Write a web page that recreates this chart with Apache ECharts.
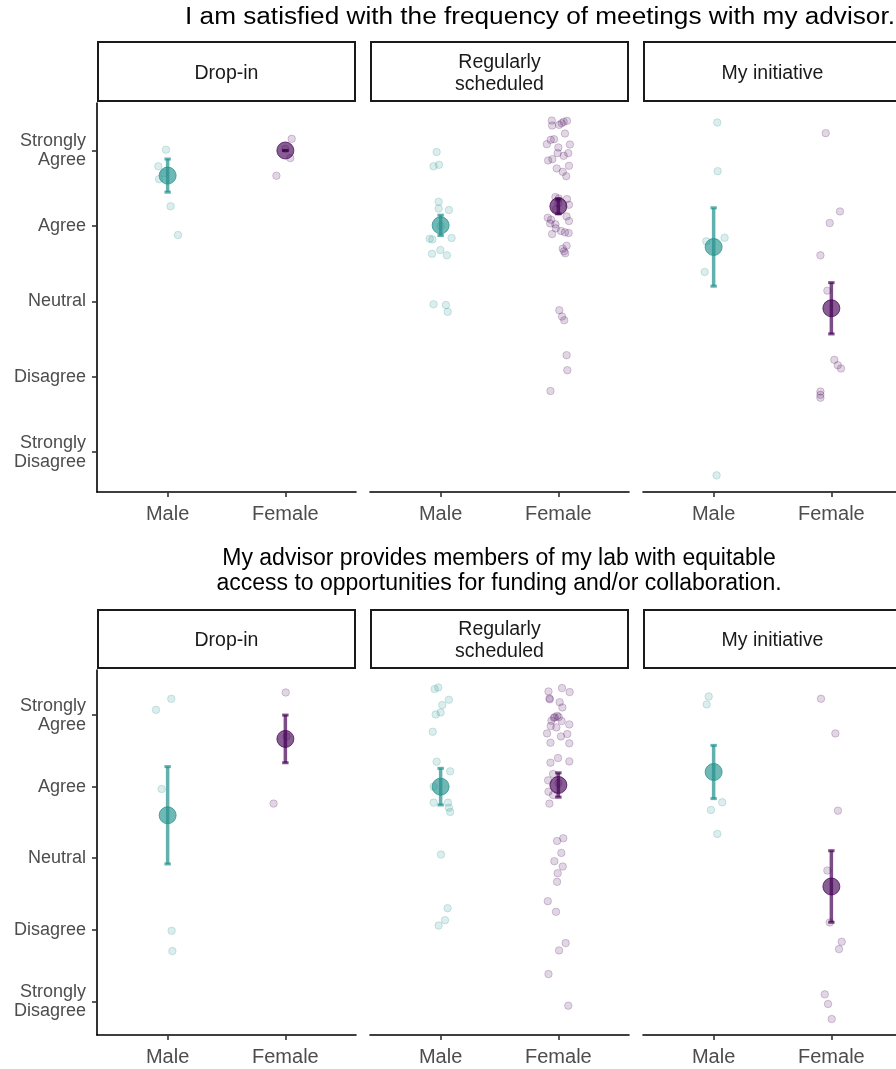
<!DOCTYPE html>
<html>
<head>
<meta charset="utf-8">
<script src="https://cdn.jsdelivr.net/npm/echarts@6/dist/echarts.min.js"></script>
<style>
  html, body { margin: 0; padding: 0; background: #ffffff; }
  #chart { width: 896px; height: 1069px; }
</style>
</head>
<body>
<div id="chart"></div>
<script>
// Categories and labels
const genders = ['Male', 'Female'];
const meetingTypes = ['Drop-in', 'Regularly\nscheduled', 'My initiative'];
const likertLabels = ['Strongly\nDisagree', 'Disagree', 'Neutral', 'Agree', 'Strongly\nAgree'];
const questionTitles = [
  'I am satisfied with the frequency of meetings with my advisor.',
  'My advisor provides members of my lab with equitable\naccess to opportunities for funding and/or collaboration.'
];

// Individual (jittered) responses: [gender position, response]
const q1DropInMale = [[0.986, 5.01], [0.921, 4.79], [0.927, 4.62], [0.97, 4.70], [1.025, 4.26], [1.088, 3.88]];
const q1DropInFemale = [[2.054, 5.155], [2.042, 4.90], [1.924, 4.665], [2.0, 5.02]];
const q1RegularMale = [[0.966, 4.98], [0.94, 4.79], [0.986, 4.81], [0.983, 4.32], [0.983, 4.23], [1.07, 4.21],
  [0.907, 3.83], [0.93, 3.82], [1.093, 3.84], [0.927, 3.63], [0.997, 3.68], [1.053, 3.61],
  [0.94, 2.96], [1.045, 2.95], [1.06, 2.86], [1.0, 4.0]];
const q1RegularFemale = [[1.944, 5.397], [1.947, 5.331], [2.006, 5.34], [2.028, 5.362], [2.045, 5.38], [2.073, 5.393],
  [2.056, 5.225], [1.902, 5.084], [1.935, 5.141], [1.963, 5.15], [2.098, 5.079], [2.0, 5.04],
  [1.994, 4.965], [2.084, 4.965], [2.045, 4.929], [1.913, 4.868], [1.949, 4.885], [2.09, 4.797],
  [1.986, 4.762], [2.037, 4.717], [2.067, 4.66], [1.975, 4.382], [2.003, 4.364], [2.073, 4.355],
  [2.09, 4.28], [1.91, 4.108], [1.938, 4.082], [1.93, 4.033], [1.975, 4.02], [2.07, 4.126],
  [2.09, 4.064], [1.947, 3.892], [2.022, 3.932], [2.056, 3.914], [2.087, 3.905], [1.978, 3.967],
  [2.037, 3.698], [2.07, 3.737], [2.048, 3.662], [2.059, 3.636], [2.008, 2.881], [2.031, 2.797],
  [2.05, 2.748], [2.07, 2.285], [2.076, 2.086], [1.933, 1.81], [2.0, 4.3], [1.98, 4.22]];
const q1InitiativeMale = [[1.031, 5.371], [1.034, 4.726], [1.093, 3.843], [0.938, 3.795], [0.924, 3.389], [1.025, 0.691]];
const q1InitiativeFemale = [[1.952, 5.23], [2.073, 4.192], [1.986, 4.038], [1.907, 3.609], [1.966, 3.141], [2.025, 2.223],
  [2.054, 2.152], [2.082, 2.108], [1.907, 1.803], [1.907, 1.759], [1.907, 1.72]];

const q2DropInMale = [[0.901, 5.074], [1.031, 5.228], [0.949, 3.967], [1.034, 1.986], [1.04, 1.702]];
const q2DropInFemale = [[2.003, 5.316], [1.90, 3.763], [2.01, 4.70]];
const q2RegularMale = [[0.949, 5.363], [0.98, 5.386], [1.07, 5.214], [1.014, 5.14], [0.958, 5.009], [1.0, 5.037],
  [0.933, 4.767], [0.966, 4.349], [1.081, 4.214], [0.94, 4.0], [0.941, 3.777], [1.062, 3.777],
  [1.07, 3.707], [1.081, 3.647], [1.003, 3.051], [1.059, 2.302], [1.037, 2.135], [0.983, 2.06]];
const q2RegularFemale = [[1.916, 5.33], [2.031, 5.377], [2.096, 5.321], [1.924, 5.233], [1.928, 5.22], [2.011, 5.181],
  [2.034, 5.107], [1.961, 4.963], [2.003, 4.972], [2.028, 4.916], [1.941, 4.921], [1.935, 4.847],
  [1.983, 4.828], [2.093, 4.87], [1.904, 4.744], [2.022, 4.702], [2.076, 4.735], [1.933, 4.614],
  [2.093, 4.605], [1.933, 4.335], [1.997, 4.40], [2.093, 4.353], [1.955, 4.177], [1.913, 4.088],
  [1.916, 3.93], [1.955, 3.884], [1.924, 3.763], [2.042, 3.279], [1.989, 3.242], [2.025, 3.074],
  [1.966, 2.958], [2.037, 2.884], [1.994, 2.791], [1.989, 2.67], [1.91, 2.40], [1.98, 2.251],
  [2.062, 1.814], [2.006, 1.712], [1.916, 1.381], [2.084, 0.94], [1.97, 4.97], [1.99, 4.99], [2.0, 4.05]];
const q2InitiativeMale = [[0.958, 5.26], [0.941, 5.149], [1.073, 3.781], [0.977, 3.674], [1.031, 3.34]];
const q2InitiativeFemale = [[1.912, 5.228], [2.034, 4.744], [2.056, 3.665], [1.966, 2.828], [1.986, 2.102], [2.088, 1.833],
  [2.065, 1.73], [1.944, 1.098], [1.972, 0.963], [2.003, 0.753]];

// Group means and standard errors, in meetingTypes order
const q1MeanMale = [4.667, 4.007, 3.72];
const q1SeMale = [0.22, 0.135, 0.52];
const q1MeanFemale = [5.0, 4.26, 2.907];
const q1SeFemale = [0.0, 0.10, 0.34];
const q2MeanMale = [3.6, 4.0, 4.205];
const q2SeMale = [0.68, 0.256, 0.372];
const q2MeanFemale = [4.667, 4.023, 2.605];
const q2SeFemale = [0.333, 0.17, 0.5];

const points = [
  [[q1DropInMale, q1DropInFemale], [q1RegularMale, q1RegularFemale], [q1InitiativeMale, q1InitiativeFemale]],
  [[q2DropInMale, q2DropInFemale], [q2RegularMale, q2RegularFemale], [q2InitiativeMale, q2InitiativeFemale]]
];
const means = [[q1MeanMale, q1MeanFemale], [q2MeanMale, q2MeanFemale]];
const ses = [[q1SeMale, q1SeFemale], [q2SeMale, q2SeFemale]];

// Layout
const FONT = '"Liberation Sans", Arial, sans-serif';
const genderRGB = ['33,144,140', '68,1,84'];
const colLeft = [97, 370, 643];
const colWidth = 259;
const rows = [
  { titleX: 540, titleY: 18, titleScaleX: 1.138, stripTop: 42, stripH: 59, plotTop: 103, plotH: 389, yMin: 0.47, yMax: 5.63 },
  { titleX: 499, titleY: 571, titleScaleX: 1, stripTop: 610, stripH: 58, plotTop: 670, plotH: 365, yMin: 0.53, yMax: 5.63 }
];

const grids = [], xAxes = [], yAxes = [], series = [], graphics = [];

rows.forEach((row, r) => {
  graphics.push({
    type: 'text', x: row.titleX, y: row.titleY, scaleX: row.titleScaleX, silent: true,
    style: { text: questionTitles[r], fill: '#000000', font: '23px ' + FONT,
      align: 'center', verticalAlign: 'middle', lineHeight: 25 }
  });
  meetingTypes.forEach((mt, c) => {
    const gi = r * 3 + c;
    grids.push({ left: colLeft[c], top: row.plotTop, width: colWidth, height: row.plotH,
      containLabel: false, outerBoundsMode: 'none' });
    xAxes.push({
      type: 'value', gridIndex: gi, min: 0.4, max: 2.6,
      splitLine: { show: false },
      axisLine: { show: true, lineStyle: { color: '#000000', width: 1.6 } },
      axisTick: { show: true, customValues: [1, 2], length: 5, lineStyle: { color: '#333333', width: 1.6 } },
      axisLabel: { show: true, customValues: [1, 2], margin: 12.5, color: '#4d4d4d', fontSize: 20, fontFamily: FONT,
        formatter: v => genders[Math.round(v) - 1] || '' }
    });
    yAxes.push({
      type: 'value', gridIndex: gi, min: row.yMin, max: row.yMax,
      splitLine: { show: false },
      axisLine: { show: c === 0, onZero: false, lineStyle: { color: '#000000', width: 1.6 } },
      axisTick: { show: c === 0, customValues: [1, 2, 3, 4, 5], length: 5, lineStyle: { color: '#333333', width: 1.6 } },
      axisLabel: { show: c === 0, customValues: [1, 2, 3, 4, 5], margin: 11, color: '#4d4d4d', fontSize: 18,
        lineHeight: 19, fontFamily: FONT, align: 'right', padding: [3, 0, 0, 0],
        formatter: v => likertLabels[Math.round(v) - 1] || '' }
    });
    // facet strip
    graphics.push({
      type: 'rect', silent: true,
      shape: { x: colLeft[c] + 1, y: row.stripTop, width: colWidth - 2, height: row.stripH },
      style: { fill: '#ffffff', stroke: '#1a1a1a', lineWidth: 2 }
    });
    graphics.push({
      type: 'text', silent: true, x: colLeft[c] + colWidth / 2, y: row.stripTop + row.stripH / 2 + 2,
      style: { text: mt, fill: '#1a1a1a', font: '19.5px ' + FONT, align: 'center', verticalAlign: 'middle', lineHeight: 22 }
    });

    genders.forEach((g, k) => {
      const rgb = genderRGB[k];
      // individual responses
      series.push({
        type: 'scatter', name: g, xAxisIndex: gi, yAxisIndex: gi, z: 2,
        data: points[r][c][k], symbolSize: 7.5, silent: true,
        itemStyle: { color: 'rgba(' + rgb + ',0.2)', borderColor: 'rgba(' + rgb + ',0.25)', borderWidth: 1 }
      });
    });
    genders.forEach((g, k) => {
      const rgb = genderRGB[k];
      const m = means[r][k][c], s = ses[r][k][c];
      // standard error bars
      series.push({
        type: 'custom', xAxisIndex: gi, yAxisIndex: gi, z: 3, silent: true,
        data: [[k + 1, m - s, m + s]],
        renderItem: (params, api) => {
          const top = api.coord([api.value(0), api.value(2)]);
          const bot = api.coord([api.value(0), api.value(1)]);
          const stroke = 'rgba(' + rgb + ',0.7)';
          const cap = 3.2;
          return {
            type: 'group', children: [
              { type: 'line', shape: { x1: top[0], y1: top[1], x2: bot[0], y2: bot[1] }, style: { stroke, lineWidth: 3.5 } },
              { type: 'line', shape: { x1: top[0] - cap, y1: top[1], x2: top[0] + cap, y2: top[1] }, style: { stroke, lineWidth: 3 } },
              { type: 'line', shape: { x1: bot[0] - cap, y1: bot[1], x2: bot[0] + cap, y2: bot[1] }, style: { stroke, lineWidth: 3 } }
            ]
          };
        }
      });
      // group mean
      series.push({
        type: 'scatter', name: g + ' mean', xAxisIndex: gi, yAxisIndex: gi, z: 4, silent: true,
        data: [[k + 1, m]], symbolSize: 17,
        itemStyle: { color: 'rgba(' + rgb + ',0.8)', borderColor: 'rgba(' + rgb + ',0.9)', borderWidth: 1 }
      });
    });
  });
});

const chart = echarts.init(document.getElementById('chart'), null, { renderer: 'canvas' });
chart.setOption({
  animation: false,
  backgroundColor: '#ffffff',
  textStyle: { fontFamily: FONT },
  grid: grids,
  xAxis: xAxes,
  yAxis: yAxes,
  series: series,
  graphic: graphics
});
</script>
</body>
</html>
